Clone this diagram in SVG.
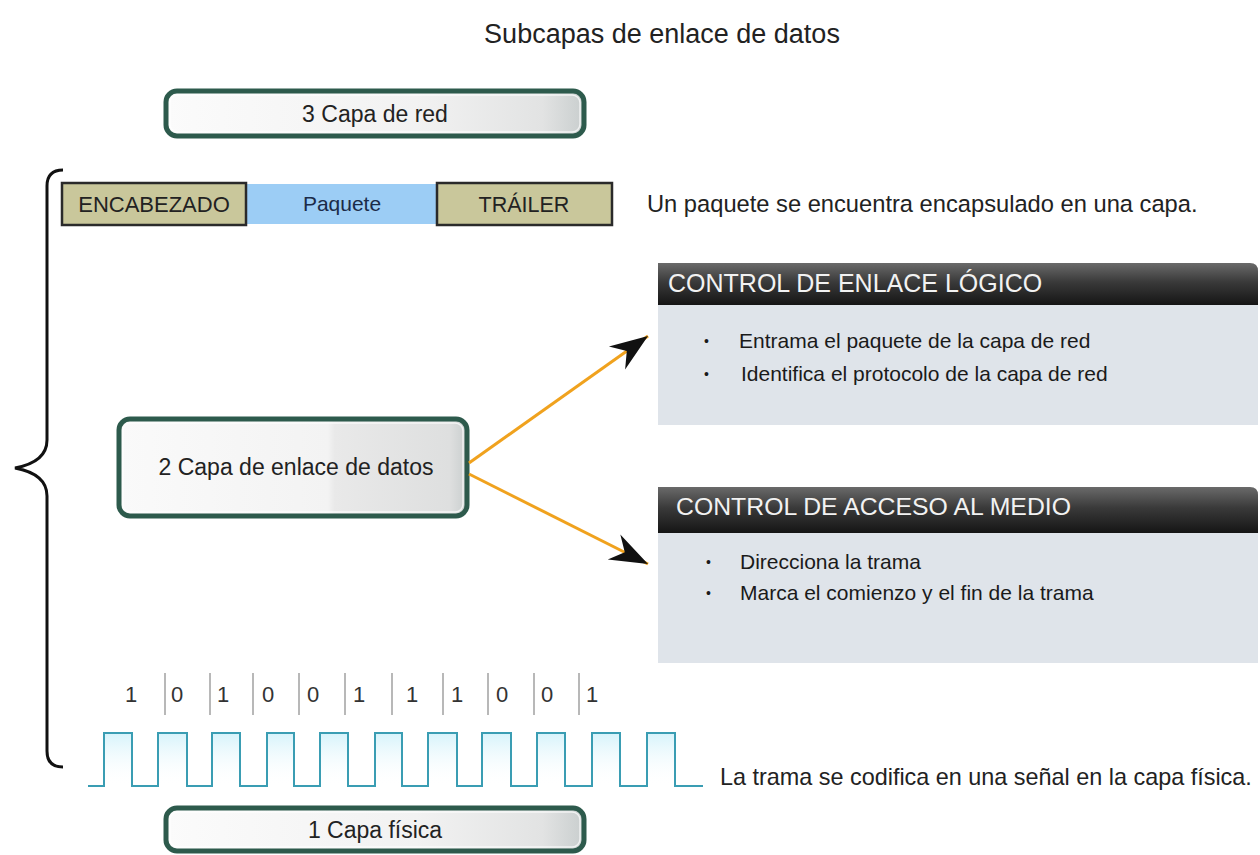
<svg xmlns="http://www.w3.org/2000/svg" width="1260" height="855" viewBox="0 0 1260 855">
<defs>
<style>
text{font-family:"Liberation Sans",Arial,sans-serif;fill:#222}
.node{fill:url(#nodeFill);stroke:#2d5a4c;stroke-width:5}
.inner{fill:none;stroke:#ffffff;stroke-opacity:0.7;stroke-width:1.5}
.hdr{fill:url(#hdrFill)}
.body{fill:#dfe4ea}
.hdrText{fill:#f2f2f2;font-size:25px}
.bul{font-size:21px;fill:#1a1a1a}
.dot{font-size:14px;fill:#1a1a1a}
.khaki{fill:#c9c79b;stroke:#2a2a2a;stroke-width:2.5}
.sep{stroke:#b8b8b8;stroke-width:2}
.digit{font-size:22px;text-anchor:middle;fill:#333}
.conn{stroke:#f0a21e;stroke-width:3;fill:none;marker-end:url(#arrow)}
</style>
<linearGradient id="nodeFill" x1="0" y1="0" x2="1" y2="0">
<stop offset="0" stop-color="#fbfbfb"/>
<stop offset="0.6" stop-color="#f2f2f2"/>
<stop offset="0.9" stop-color="#e2e3e3"/>
<stop offset="1" stop-color="#c9cece"/>
</linearGradient>
<linearGradient id="node2Fill" x1="0" y1="0" x2="1" y2="0">
<stop offset="0" stop-color="#fafafa"/>
<stop offset="0.6" stop-color="#f3f3f3"/>
<stop offset="0.62" stop-color="#e9e9e9"/>
<stop offset="0.95" stop-color="#dedfdf"/>
<stop offset="1" stop-color="#c9cece"/>
</linearGradient>
<linearGradient id="hdrFill" x1="0" y1="0" x2="0" y2="1">
<stop offset="0" stop-color="#6a6a6a"/>
<stop offset="0.45" stop-color="#3a3a3a"/>
<stop offset="1" stop-color="#151515"/>
</linearGradient>
<linearGradient id="pulseFill" x1="0" y1="0" x2="0" y2="1">
<stop offset="0" stop-color="#d6f3fb"/>
<stop offset="1" stop-color="#ffffff" stop-opacity="0"/>
</linearGradient>
<marker id="arrow" viewBox="-40 -16 42 32" refX="0" refY="0" markerWidth="42" markerHeight="32" markerUnits="userSpaceOnUse" orient="auto">
<path d="M0,0 L-38,-14 L-26,0 L-38,14 Z" fill="#111"/>
</marker>
</defs>
<rect width="1260" height="855" fill="#ffffff"/>

<text x="662" y="43" font-size="27" text-anchor="middle">Subcapas de enlace de datos</text>

<g id="bracket">
<path d="M63,170 Q47,170 47,186 L47,440 Q47,462 15,468 Q47,474 47,496 L47,751 Q47,767 63,767" fill="none" stroke="#111" stroke-width="3"/>
</g>

<g id="node-red">
<rect class="node" x="166" y="91" width="418" height="45" rx="11"/>
<rect class="inner" x="170" y="95" width="410" height="37" rx="8"/>
<text x="375" y="122" font-size="23" text-anchor="middle">3 Capa de red</text>
</g>

<g id="packet">
<rect x="246" y="184" width="191" height="40" fill="#9ccdf5"/>
<rect class="khaki" x="62" y="183" width="184" height="42"/>
<rect class="khaki" x="437" y="183" width="175" height="42"/>
<text x="154" y="212" font-size="22" text-anchor="middle">ENCABEZADO</text>
<text x="342" y="211" font-size="21" text-anchor="middle" style="fill:#1b2b48">Paquete</text>
<text x="524" y="212" font-size="21.5" text-anchor="middle">TRÁILER</text>
</g>
<text x="647" y="212" font-size="23.7">Un paquete se encuentra encapsulado en una capa.</text>

<g id="llc">
<path class="hdr" d="M658,263 L1250,263 Q1258,263 1258,271 L1258,305 L658,305 Z"/>
<rect class="body" x="658" y="305" width="600" height="120"/>
<text class="hdrText" x="668" y="292">CONTROL DE ENLACE LÓGICO</text>
<text class="dot" x="704" y="346">•</text>
<text class="bul" x="739" y="348">Entrama el paquete de la capa de red</text>
<text class="dot" x="704" y="379">•</text>
<text class="bul" x="741" y="381">Identifica el protocolo de la capa de red</text>
</g>

<g id="mac">
<path class="hdr" d="M658,487 L1250,487 Q1258,487 1258,495 L1258,533 L658,533 Z"/>
<rect class="body" x="658" y="533" width="600" height="130"/>
<text class="hdrText" x="676" y="515" style="font-size:24.8px">CONTROL DE ACCESO AL MEDIO</text>
<text class="dot" x="706" y="567">•</text>
<text class="bul" x="740" y="569">Direcciona la trama</text>
<text class="dot" x="706" y="598">•</text>
<text class="bul" x="740" y="600">Marca el comienzo y el fin de la trama</text>
</g>

<g id="node-enlace">
<rect x="119" y="419" width="348" height="97" rx="11" fill="url(#node2Fill)" stroke="#2d5a4c" stroke-width="5"/>
<rect class="inner" x="123" y="423" width="340" height="89" rx="8"/>
<text x="296" y="475" font-size="23" text-anchor="middle">2 Capa de enlace de datos</text>
</g>

<g id="connectors">
<line class="conn" x1="469" y1="463" x2="648" y2="336"/>
<line class="conn" x1="469" y1="474" x2="648" y2="564"/>
</g>

<g id="bits">
<g class="sep">
<line x1="165" y1="673" x2="165" y2="715"/>
<line x1="210" y1="673" x2="210" y2="715"/>
<line x1="253" y1="673" x2="253" y2="715"/>
<line x1="299" y1="673" x2="299" y2="715"/>
<line x1="345" y1="673" x2="345" y2="715"/>
<line x1="392" y1="673" x2="392" y2="715"/>
<line x1="443" y1="673" x2="443" y2="715"/>
<line x1="488" y1="673" x2="488" y2="715"/>
<line x1="534" y1="673" x2="534" y2="715"/>
<line x1="579" y1="673" x2="579" y2="715"/>
</g>
<text class="digit" x="131" y="702">1</text>
<text class="digit" x="177" y="702">0</text>
<text class="digit" x="223" y="702">1</text>
<text class="digit" x="268" y="702">0</text>
<text class="digit" x="313" y="702">0</text>
<text class="digit" x="359" y="702">1</text>
<text class="digit" x="412" y="702">1</text>
<text class="digit" x="457" y="702">1</text>
<text class="digit" x="502" y="702">0</text>
<text class="digit" x="547" y="702">0</text>
<text class="digit" x="592" y="702">1</text>
</g>

<g id="signal">
<g fill="url(#pulseFill)">
<rect x="104" y="733" width="28" height="53"/>
<rect x="158" y="733" width="29" height="53"/>
<rect x="212" y="733" width="28" height="53"/>
<rect x="267" y="733" width="27" height="53"/>
<rect x="320" y="733" width="28" height="53"/>
<rect x="375" y="733" width="27" height="53"/>
<rect x="428" y="733" width="29" height="53"/>
<rect x="482" y="733" width="29" height="53"/>
<rect x="537" y="733" width="28" height="53"/>
<rect x="592" y="733" width="28" height="53"/>
<rect x="647" y="733" width="28" height="53"/>
</g>
<path d="M88,786 H104 V733 H132 V786 H158 V733 H187 V786 H212 V733 H240 V786 H267 V733 H294 V786 H320 V733 H348 V786 H375 V733 H402 V786 H428 V733 H457 V786 H482 V733 H511 V786 H537 V733 H565 V786 H592 V733 H620 V786 H647 V733 H675 V786 H703" fill="none" stroke="#3a9db3" stroke-width="2"/>
</g>
<text x="720" y="785" font-size="23.4">La trama se codifica en una señal en la capa física.</text>

<g id="node-fisica">
<rect class="node" x="166" y="808" width="418" height="43" rx="11"/>
<rect class="inner" x="170" y="812" width="410" height="35" rx="8"/>
<text x="375" y="838" font-size="23" text-anchor="middle">1 Capa física</text>
</g>
</svg>
